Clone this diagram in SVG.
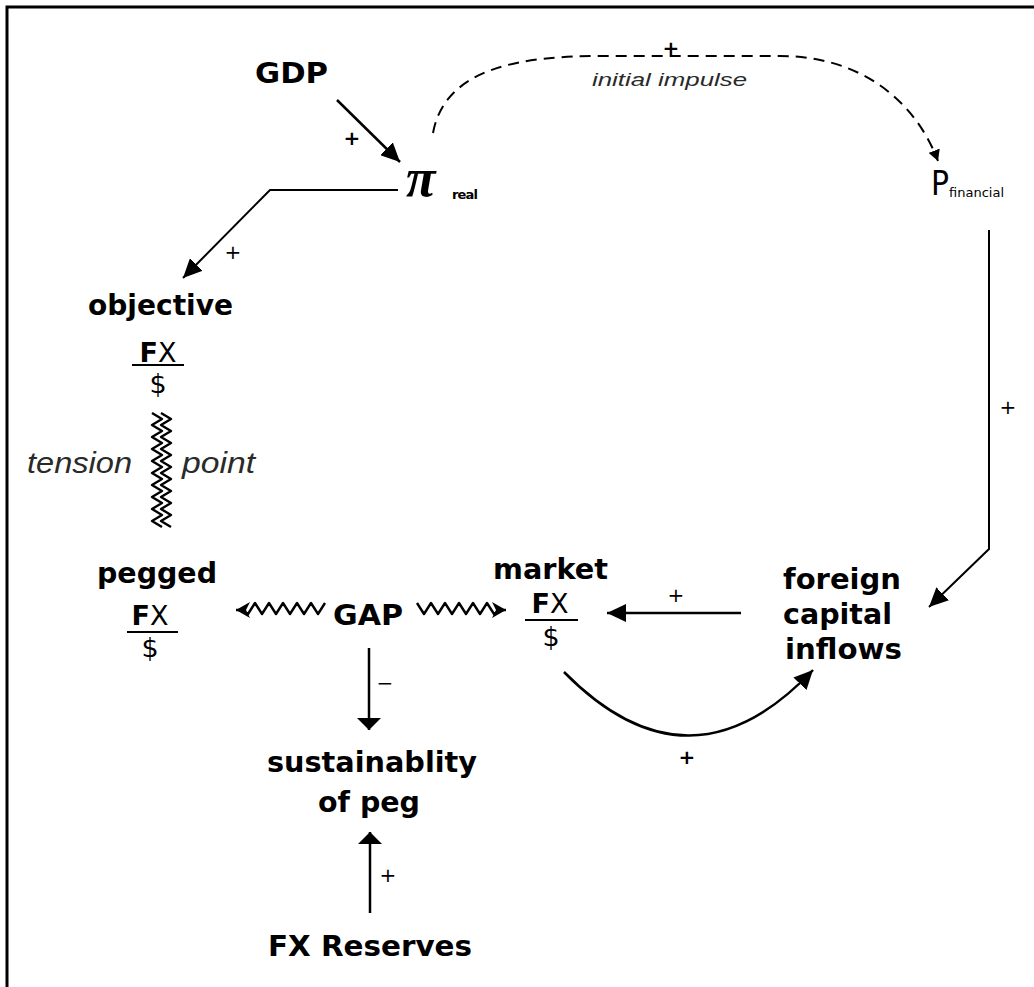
<svg xmlns="http://www.w3.org/2000/svg" width="1034" height="987" viewBox="0 0 1034 987">
<style>
.lbl{font-family:"DejaVu Sans","Liberation Sans",sans-serif;font-weight:bold;font-size:28px;fill:#000}
.frac{font-family:"DejaVu Sans","Liberation Sans",sans-serif;font-size:27px;fill:#000}
.fb{font-weight:bold}
.it{font-family:"Liberation Sans","DejaVu Sans",sans-serif;font-style:italic;fill:#2a2a2a}
.sign{font-family:"DejaVu Sans","Liberation Sans",sans-serif;font-size:20px;fill:#000}
.sub{font-family:"DejaVu Sans","Liberation Sans",sans-serif;font-size:13px;fill:#000}
.ln{fill:none;stroke:#000;stroke-width:2.5}
.thin{stroke-width:2}
.bar{stroke:#000;stroke-width:2}
.zz{fill:none;stroke:#000;stroke-width:2.4;stroke-linejoin:round}
</style>
<defs>
<marker id="ah" markerUnits="userSpaceOnUse" markerWidth="20" markerHeight="18" refX="19" refY="9" orient="auto"><path d="M0,0 L19,9 L0,18 Z" fill="#000"/></marker>
<marker id="ahw" markerUnits="userSpaceOnUse" markerWidth="13" markerHeight="24" refX="12" refY="12" orient="auto"><path d="M0,0 L12,12 L0,24 Z" fill="#000"/></marker>
<marker id="ahs" markerUnits="userSpaceOnUse" markerWidth="12" markerHeight="12" refX="11" refY="6" orient="auto"><path d="M0,0 L11,6 L0,12 Z" fill="#000"/></marker>
<marker id="ahz" markerUnits="userSpaceOnUse" markerWidth="15" markerHeight="16" refX="14" refY="8" orient="auto"><path d="M0,0 L14,8 L0,16 L4,8 Z" fill="#000"/></marker>
</defs>
<rect width="1034" height="987" fill="#fff"/>
<path d="M7,987 V7 H1034" fill="none" stroke="#000" stroke-width="3"/>

<g id="connectors">
  <line class="ln" x1="337" y1="100" x2="400" y2="162" marker-end="url(#ah)"/>
  <polyline class="ln thin" points="398,190 270,190 183,278" marker-end="url(#ah)"/>
  <path class="ln thin" d="M433,133 C445,68 520,56 600,56 L780,56 C860,56 915,100 938,161" stroke-dasharray="11,7" marker-end="url(#ahs)"/>
  <polyline class="ln thin" points="989,230 989,549 929,607" marker-end="url(#ah)"/>
  <line class="ln" x1="741" y1="613" x2="607" y2="613" marker-end="url(#ah)"/>
  <path class="ln" d="M564,672 Q690,800 813,670" marker-end="url(#ah)"/>
  <polyline class="zz" points="325,603 318,614 311,603 304,614 297,603 290,614 283,603 276,614 269,603 262,614 255,603 248,614 241,610 236,610" marker-end="url(#ahz)"/>
  <polyline class="zz" points="417,603 424,614 431,603 438,614 445,603 452,614 459,603 466,614 473,603 480,614 487,603 494,614 501,610 506,610" marker-end="url(#ahz)"/>
  <line class="ln" x1="369" y1="648" x2="369" y2="730" marker-end="url(#ahw)"/>
  <line class="ln" x1="370" y1="913" x2="370" y2="832" marker-end="url(#ahw)"/>
  <polyline class="zz" points="152,413 162,419 152,425 162,431 152,437 162,443 152,449 162,455 152,461 162,467 152,473 162,479 152,485 162,491 152,497 162,503 152,509 162,515 152,521 162,527"/>
  <polyline class="zz" points="161,413 171,419 161,425 171,431 161,437 171,443 161,449 171,455 161,461 171,467 161,473 171,479 161,485 171,491 161,497 171,503 161,509 171,515 161,521 171,527"/>
</g>

<g id="link-labels">
  <text class="sign" x="352" y="145" text-anchor="middle" font-weight="bold" font-size="26">+</text>
  <text class="sign" x="233" y="259" text-anchor="middle">+</text>
  <text class="sign" x="671" y="55" text-anchor="middle" font-weight="bold">+</text>
  <text class="it" x="592" y="86" font-size="18" textLength="155" lengthAdjust="spacingAndGlyphs">initial impulse</text>
  <text class="sign" x="1008" y="414" text-anchor="middle">+</text>
  <text class="sign" x="676" y="602" text-anchor="middle">+</text>
  <text class="sign" x="687" y="764" text-anchor="middle" font-weight="bold">+</text>
  <text class="sign" x="385" y="690" text-anchor="middle">−</text>
  <text class="sign" x="388" y="882" text-anchor="middle">+</text>
  <text class="it" x="27" y="473" font-size="30" textLength="105" lengthAdjust="spacingAndGlyphs">tension</text>
  <text class="it" x="182" y="473" font-size="30" textLength="73" lengthAdjust="spacingAndGlyphs">point</text>
</g>

<g id="n-gdp">
  <text class="lbl" x="255" y="83" textLength="73" lengthAdjust="spacingAndGlyphs">GDP</text>
</g>
<g id="n-pi-real">
  <text x="406" y="196" font-family="Liberation Serif, serif" font-style="italic" font-weight="bold" font-size="54" fill="#000">π</text>
  <text class="sub" x="452" y="199" font-weight="bold" font-size="13" textLength="26">real</text>
</g>
<g id="n-p-financial">
  <text x="931" y="195" font-family="DejaVu Sans, sans-serif" font-size="34" fill="#000" textLength="18" lengthAdjust="spacingAndGlyphs">P</text>
  <text class="sub" x="949" y="197" textLength="55">financial</text>
</g>
<g id="n-objective">
  <text class="lbl" x="88" y="315" textLength="145" lengthAdjust="spacingAndGlyphs">objective</text>
  <text class="frac" x="158" y="362" text-anchor="middle"><tspan class="fb">F</tspan>X</text>
  <line class="bar" x1="132" y1="365" x2="184" y2="365"/>
  <text class="frac" x="158" y="393" text-anchor="middle" font-size="25">$</text>
</g>
<g id="n-pegged">
  <text class="lbl" x="97" y="583" textLength="120" lengthAdjust="spacingAndGlyphs">pegged</text>
  <text class="frac" x="150" y="625" text-anchor="middle"><tspan class="fb">F</tspan>X</text>
  <line class="bar" x1="127" y1="632" x2="178" y2="632"/>
  <text class="frac" x="150" y="657" text-anchor="middle" font-size="25">$</text>
</g>
<g id="n-gap">
  <text class="lbl" x="333" y="625" textLength="70" lengthAdjust="spacingAndGlyphs">GAP</text>
</g>
<g id="n-market">
  <text class="lbl" x="493" y="579" textLength="115" lengthAdjust="spacingAndGlyphs">market</text>
  <text class="frac" x="550" y="613" text-anchor="middle"><tspan class="fb">F</tspan>X</text>
  <line class="bar" x1="525" y1="620" x2="578" y2="620"/>
  <text class="frac" x="551" y="646" text-anchor="middle" font-size="25">$</text>
</g>
<g id="n-foreign">
  <text class="lbl" x="783" y="589" textLength="118" lengthAdjust="spacingAndGlyphs">foreign</text>
  <text class="lbl" x="783" y="624" textLength="109" lengthAdjust="spacingAndGlyphs">capital</text>
  <text class="lbl" x="785" y="659" textLength="117" lengthAdjust="spacingAndGlyphs">inflows</text>
</g>
<g id="n-sustainability">
  <text class="lbl" x="267" y="772" textLength="210" lengthAdjust="spacingAndGlyphs">sustainablity</text>
  <text class="lbl" x="318" y="812" textLength="102" lengthAdjust="spacingAndGlyphs">of peg</text>
</g>
<g id="n-reserves">
  <text class="lbl" x="268" y="956" textLength="204" lengthAdjust="spacingAndGlyphs">FX Reserves</text>
</g>
</svg>
